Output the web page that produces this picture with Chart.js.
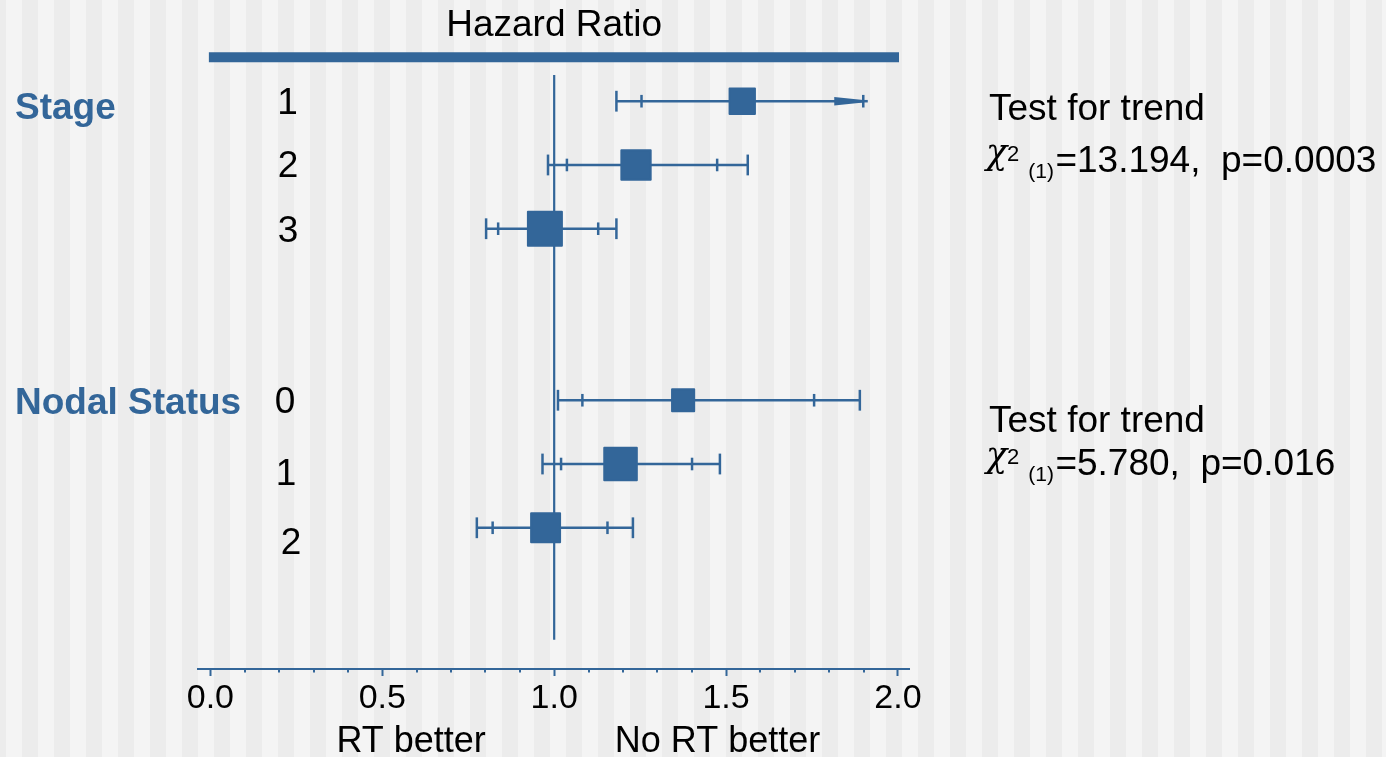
<!DOCTYPE html>
<html>
<head>
<meta charset="utf-8">
<title>Hazard Ratio by Stage and Nodal Status</title>
<script src="https://cdn.jsdelivr.net/npm/chart.js@4.4.1/dist/chart.umd.min.js"></script>
<style>
  html, body { margin: 0; padding: 0; background: #f4f4f4; }
  #forest { display: block; }
</style>
</head>
<body>
<canvas id="forest" width="1386" height="757"></canvas>
<script>
// Subgroups and their rows
const groups = ['Stage', 'Nodal Status'];
const groupFirstRow = [0, 3];
const levels = ['1', '2', '3', '0', '1', '2'];
const rowPos = [1, 2, 3, 5.69, 6.69, 7.69];

// Hazard ratio, inner and outer confidence limits
const hr      = [1.547, 1.238, 0.973, 1.375, 1.193, 0.975];
const innerLo = [1.254, 1.037, 0.837, 1.082, 1.020, 0.821];
const innerHi = [1.899, 1.474, 1.128, 1.756, 1.401, 1.155];
const outerLo = [1.181, 0.982, 0.802, 1.011, 0.966, 0.775];
const outerHi = [null, 1.563, 1.181, 1.889, 1.482, 1.229]; // null: runs off the scale, drawn as an arrow
const weight  = [0.76, 0.87, 1.00, 0.67, 0.96, 0.86];

// Trend tests per group
const trendChi = ['13.194', '5.780'];
const trendP = ['0.0003', '0.016'];

// Hazard ratio axis
const xTicks = [0.0, 0.1, 0.2, 0.3, 0.4, 0.5, 0.6, 0.7, 0.8, 0.9, 1.0,
                1.1, 1.2, 1.3, 1.4, 1.5, 1.6, 1.7, 1.8, 1.9, 2.0];
const xLabelled = [0.0, 0.5, 1.0, 1.5, 2.0];
const sideLabels = ['RT better', 'No RT better'];
const sideLabelAt = [0.584, 1.475];

const BLUE = '#336699';
const SANS = '"Liberation Sans", Arial, sans-serif';
const MAX_BOX = 36;
const Y_MIN = 0.589, Y_MAX = 9.905, REF_END = 9.445;

const pt = (x, i) => ({ x: x, y: rowPos[i] });

// one horizontal segment per row
const ciLines = rowPos.map((y, i) => ({
    data: [pt(outerLo[i], i), pt(outerHi[i] ?? innerHi[i], i)],
    showLine: true,
    borderColor: BLUE,
    borderWidth: 2.5,
    pointRadius: 0,
    order: 3
}));

const outerCaps = [];
const innerCaps = [];
rowPos.forEach((y, i) => {
    outerCaps.push(pt(outerLo[i], i));
    if (outerHi[i] !== null) outerCaps.push(pt(outerHi[i], i));
    innerCaps.push(pt(innerLo[i], i), pt(innerHi[i], i));
});

const datasets = [
    {
        // boxes sized by weight
        data: hr.map(pt),
        pointStyle: 'rect',
        pointRadius: weight.map(w => (w * MAX_BOX - 2) / Math.SQRT2),
        backgroundColor: BLUE,
        borderColor: BLUE,
        borderWidth: 2,
        order: 0
    },
    {
        data: outerCaps,
        pointStyle: 'line',
        rotation: 90,
        pointRadius: 10.4,
        borderColor: BLUE,
        borderWidth: 2.5,
        order: 1
    },
    {
        data: innerCaps,
        pointStyle: 'line',
        rotation: 90,
        pointRadius: 6.3,
        borderColor: BLUE,
        borderWidth: 2.5,
        order: 2
    },
    ...ciLines,
    {
        // line of no effect
        data: [{ x: 1, y: Y_MIN }, { x: 1, y: REF_END }],
        showLine: true,
        borderColor: BLUE,
        borderWidth: 2.2,
        pointRadius: 0,
        order: 4
    }
];

const forestDecor = {
    id: 'forestDecor',
    beforeDraw(chart) {
        const ctx = chart.ctx;
        ctx.save();
        ctx.fillStyle = '#f4f4f4';
        ctx.fillRect(0, 0, chart.width, chart.height);
        ctx.fillStyle = '#ececec';
        for (let x = -10; x < chart.width; x += 32) ctx.fillRect(x, 0, 16, chart.height);
        ctx.restore();
    },
    beforeDatasetsDraw(chart) {
        chart.ctx.save();
        chart.ctx.lineJoin = 'round';
    },
    afterDatasetsDraw(chart) {
        const ctx = chart.ctx;
        ctx.restore();
        const xs = chart.scales.x, ys = chart.scales.y;
        ctx.save();
        ctx.fillStyle = BLUE;
        ctx.strokeStyle = BLUE;

        // arrow heads where the interval leaves the axis
        rowPos.forEach((r, i) => {
            if (outerHi[i] !== null) return;
            const tip = xs.getPixelForValue(innerHi[i]);
            const y = ys.getPixelForValue(r);
            ctx.beginPath();
            ctx.moveTo(tip - 29, y - 4.3);
            ctx.lineTo(tip, y - 1.2);
            ctx.lineTo(tip, y + 1.2);
            ctx.lineTo(tip - 29, y + 4.3);
            ctx.closePath();
            ctx.fill();
            ctx.lineWidth = 2.5;
            ctx.beginPath();
            ctx.moveTo(tip, y);
            ctx.lineTo(tip + 4.5, y);
            ctx.stroke();
        });

        // minor ticks
        const axisY = chart.chartArea.bottom;
        ctx.lineWidth = 2;
        xTicks.forEach(v => {
            if (xLabelled.includes(v)) return;
            const x = Math.round(xs.getPixelForValue(v));
            ctx.beginPath();
            ctx.moveTo(x, axisY);
            ctx.lineTo(x, axisY + 3.5);
            ctx.stroke();
        });
        ctx.restore();
    },
    afterDraw(chart) {
        const ctx = chart.ctx;
        const xs = chart.scales.x, ys = chart.scales.y;
        ctx.save();

        // header
        ctx.fillStyle = '#000';
        ctx.font = '37px ' + SANS;
        ctx.textAlign = 'center';
        ctx.textBaseline = 'alphabetic';
        ctx.fillText('Hazard Ratio', xs.getPixelForValue(1), 36);
        ctx.strokeStyle = BLUE;
        ctx.lineWidth = 10;
        ctx.beginPath();
        ctx.moveTo(xs.getPixelForValue(0) - 1.5, 57.3);
        ctx.lineTo(xs.getPixelForValue(2) + 1, 57.3);
        ctx.stroke();

        // group names
        const groupNudge = [7.5, 3.5];
        ctx.textAlign = 'left';
        ctx.textBaseline = 'middle';
        ctx.fillStyle = BLUE;
        ctx.font = 'bold 37px ' + SANS;
        groups.forEach((g, k) => {
            ctx.fillText(g, 15, ys.getPixelForValue(rowPos[groupFirstRow[k]]) + groupNudge[k]);
        });

        // level names
        const levelNudgeX = [0, 0.5, 0.5, -2.5, -1.5, 3.5];
        const levelNudgeY = [2.5, 2.3, 2.7, 2.7, 11, 16.5];
        ctx.textAlign = 'center';
        ctx.fillStyle = '#000';
        ctx.font = '37px ' + SANS;
        levels.forEach((l, i) => {
            ctx.fillText(l, 287.5 + levelNudgeX[i], ys.getPixelForValue(rowPos[i]) + levelNudgeY[i]);
        });

        // trend tests
        const trendBase = [[120, 172], [431.7, 475]];
        ctx.textAlign = 'left';
        ctx.textBaseline = 'alphabetic';
        groups.forEach((g, k) => {
            let x = 989;
            const b = trendBase[k][1];
            ctx.font = '37px ' + SANS;
            ctx.fillText('Test for trend', x, trendBase[k][0]);
            ctx.font = 'italic 35px "DejaVu Serif", serif';
            ctx.fillText('\u03C7', x - 3, b - 8);
            x += 18;
            ctx.font = '22px ' + SANS;
            ctx.fillText('2', x, b - 11);
            x += ctx.measureText('2').width + 9;
            ctx.font = '21px ' + SANS;
            ctx.fillText('(1)', x, b + 5.5);
            x += ctx.measureText('(1)').width + 1.5;
            ctx.font = '37px ' + SANS;
            ctx.fillText('=' + trendChi[k] + ',  p=' + trendP[k], x, b);
        });

        // direction labels under the axis
        ctx.textAlign = 'center';
        ctx.font = '36px ' + SANS;
        sideLabels.forEach((s, k) => {
            ctx.fillText(s, xs.getPixelForValue(sideLabelAt[k]), 752);
        });
        ctx.restore();
    }
};

new Chart(document.getElementById('forest'), {
    type: 'scatter',
    data: { datasets: datasets },
    options: {
        responsive: false,
        animation: false,
        devicePixelRatio: 1,
        events: [],
        layout: { padding: { top: 75, left: 198, right: 477, bottom: 0 } },
        plugins: {
            legend: { display: false },
            tooltip: { enabled: false }
        },
        scales: {
            x: {
                type: 'linear',
                min: -0.036,
                max: 2.032,
                afterBuildTicks: scale => { scale.ticks = xTicks.map(v => ({ value: v })); },
                afterFit: scale => { scale.height = 88; },
                ticks: {
                    autoSkip: false,
                    maxRotation: 0,
                    padding: 2,
                    color: '#000',
                    font: { family: SANS, size: 34, lineHeight: 1.2 },
                    callback: v => xLabelled.includes(v) ? v.toFixed(1) : ''
                },
                grid: {
                    drawOnChartArea: false,
                    tickLength: 7,
                    tickWidth: 2,
                    tickColor: c => (c.tick && xLabelled.includes(c.tick.value)) ? BLUE : 'rgba(0,0,0,0)'
                },
                border: { color: BLUE, width: 2 }
            },
            y: {
                type: 'linear',
                display: false,
                reverse: true,
                min: Y_MIN,
                max: Y_MAX
            }
        }
    },
    plugins: [forestDecor]
});
</script>
</body>
</html>
